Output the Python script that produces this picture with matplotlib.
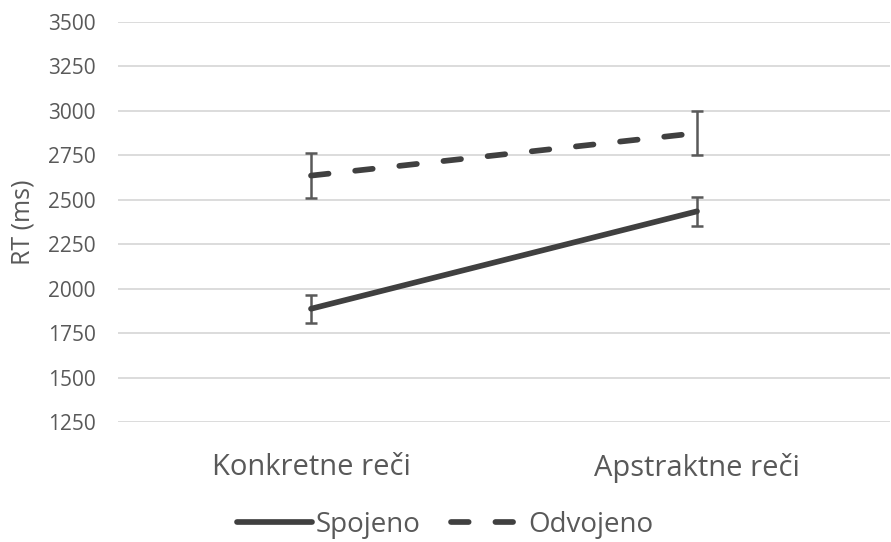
import matplotlib
matplotlib.use("Agg")
import matplotlib.pyplot as plt
import numpy as np

categories = ["Konkretne reči", "Apstraktne reči"]
spojeno = [1887, 2435]
spojeno_err = [78, 82]
odvojeno = [2636, 2875]
odvojeno_err = [126, 125]
yticks = [1250, 1500, 1750, 2000, 2250, 2500, 2750, 3000, 3250, 3500]

plt.rcParams['font.family'] = ['Open Sans', 'DejaVu Sans']

fig = plt.figure(figsize=(8.91, 5.42), dpi=100)
ax = fig.add_axes([118/891, 1-422/542, (890-118)/891, 400/542])

x = np.arange(len(categories))
line_col = "#404040"
err_col = "#595959"

ax.errorbar(x, spojeno, yerr=spojeno_err, fmt='none', ecolor=err_col, elinewidth=1.8, capsize=4.5, capthick=1.8, zorder=3)
ax.errorbar(x, odvojeno, yerr=odvojeno_err, fmt='none', ecolor=err_col, elinewidth=1.8, capsize=4.5, capthick=1.8, zorder=3)
l1, = ax.plot(x, spojeno, color=line_col, lw=4.1, solid_capstyle='round', label="Spojeno", zorder=4)
l2, = ax.plot(x, odvojeno, color=line_col, lw=4.1, dashes=(3.1, 4.7), dash_capstyle='round', label="Odvojeno", zorder=4)

ax.set_xlim(-0.5, 1.5)
ax.set_ylim(1250, 3500)
ax.set_yticks(yticks)
ax.set_xticks(x)
ax.set_xticklabels(categories)
ax.yaxis.grid(True, color="#d9d9d9", lw=1.3)
ax.set_axisbelow(True)
for s in ax.spines.values():
    s.set_visible(False)
ax.tick_params(axis='y', length=0, labelsize=15, labelcolor="#595959", pad=16)
ax.tick_params(axis='x', length=0, labelsize=21, labelcolor="#595959", pad=22)
ax.set_ylabel("RT (ms)", fontsize=18, color="#595959", labelpad=9)

leg = fig.legend(handles=[l1, l2], loc='center', bbox_to_anchor=(0.5, 1-525/542), ncol=2,
                 frameon=False, fontsize=20, handlelength=2.7, handletextpad=0.1, columnspacing=1.1,
                 labelcolor="#595959", borderpad=0)

fig.savefig("out.png", dpi=100)
